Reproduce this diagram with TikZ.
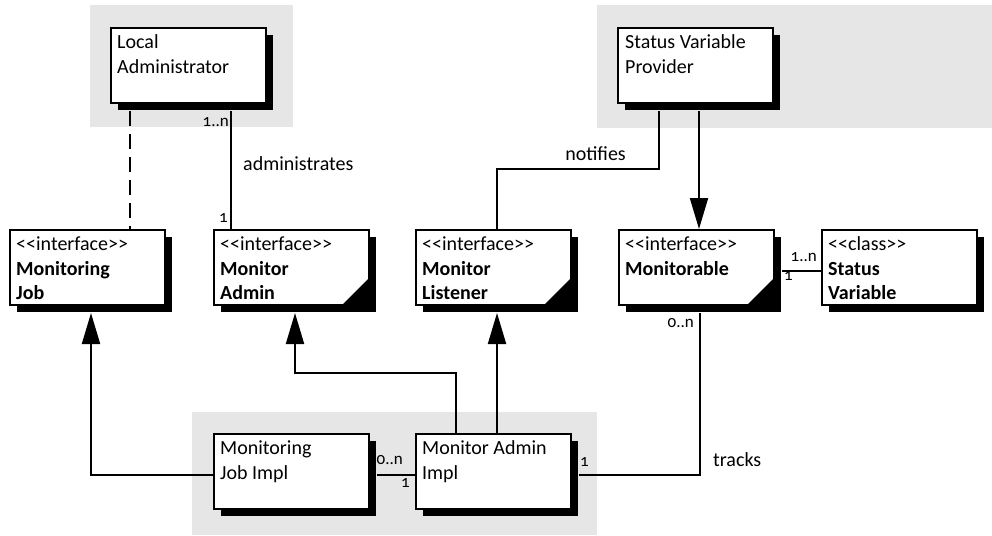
\documentclass[tikz,border=0pt]{standalone}
\usepackage{fontspec}
\setmainfont{Carlito}[Ligatures=TeXOff]
\newfontfamily\numfont{Carlito}[Numbers=OldStyle,Ligatures=TeXOff]
\usetikzlibrary{arrows.meta,shadows,calc}
\definecolor{bggray}{RGB}{230,230,230}
\begin{document}
\begin{tikzpicture}[x=1pt,y=-1pt,
  umlbox/.style={draw, line width=2pt, fill=white, minimum width=155pt, minimum height=75pt,
    inner sep=0pt, anchor=north west,
    general shadow={fill=black, shadow xshift=7pt, shadow yshift=-7pt}},
  boxtext/.style={anchor=north west, inner sep=0pt, align=left, font=\fontsize{20}{24.5}\selectfont},
  lbl/.style={inner sep=0pt, font=\fontsize{20}{24}\selectfont},
  mult/.style={inner sep=0pt, font=\numfont\fontsize{17}{20}\selectfont},
  conn/.style={line width=2pt},
  inh/.style={conn, -{Triangle[width=18pt,length=31pt]}},
  fold/.style={fill=black}
]
\useasboundingbox (0,0) rectangle (992,535);
% grey groups
\fill[bggray] (90,5) rectangle (293,127);
\fill[bggray] (597,5) rectangle (992,128);
\fill[bggray] (192,412) rectangle (597,535);

% boxes
\node[umlbox] (la) at (110,27) {};
\node[umlbox] (svp) at (617,27) {};
\node[umlbox] (mj) at (9,229) {};
\node[umlbox] (ma) at (213,229) {};
\node[umlbox] (ml) at (415,229) {};
\node[umlbox] (mo) at (618,229) {};
\node[umlbox] (sv) at (821,229) {};
\node[umlbox] (mji) at (213,433) {};
\node[umlbox] (mai) at (415,433) {};

\foreach \n in {ma,ml,mo}
  \fill[fold] (\n.south east) -- ($(\n.south east)+(-29,0)$) -- ($(\n.south east)+(0,-29)$) -- cycle;

% box texts
\node[boxtext] (laT) at ($(la.north west)+(7,4.35)$) {\strut Local\\Administrator};
\node[boxtext] (svpT) at ($(svp.north west)+(8,4.35)$) {\strut Status Variable\\Provider};
\node[boxtext] (mjT) at ($(mj.north west)+(7,4.35)$) {\strut <<interface>>\\\textbf{Monitoring}\\\textbf{Job}};
\node[boxtext] (maT) at ($(ma.north west)+(7,4.35)$) {\strut <<interface>>\\\textbf{Monitor}\\\textbf{Admin}};
\node[boxtext] (mlT) at ($(ml.north west)+(7,4.35)$) {\strut <<interface>>\\\textbf{Monitor}\\\textbf{Listener}};
\node[boxtext] (moT) at ($(mo.north west)+(7,4.35)$) {\strut <<interface>>\\\textbf{Monitorable}};
\node[boxtext] (svT) at ($(sv.north west)+(7,4.35)$) {\strut <<class>>\\\textbf{Status}\\\textbf{Variable}};
\node[boxtext] (mjiT) at ($(mji.north west)+(7,4.35)$) {\strut Monitoring\\Job Impl};
\node[boxtext] (maiT) at ($(mai.north west)+(7,4.35)$) {\strut Monitor Admin\\Impl};

% connectors
\coordinate (dtop) at ($(la.south west)+(20,7)$);
\draw[conn, dash pattern=on 15pt off 8pt] (dtop) -- (dtop |- mj.north);

\coordinate (adm) at ($(la.south west)+(121,7)$);
\draw[conn] (adm) -- (adm |- ma.north);

\coordinate (nf) at ($(svp.south west)+(42,7)$);
\coordinate (nfc) at ($(svp.south west)+(42,65)$);
\coordinate (mlt) at ($(ml.north)+(3.5,0)$);
\draw[conn] (nf) -- (nfc) -| (mlt);

\coordinate (svpb) at ($(svp.south)+(3.5,7)$);
\draw[inh] (svpb) -- (svpb |- mo.north);

\coordinate (moe) at ($(mo.east)+(7,3.5)$);
\draw[conn] (moe) -- (moe -| sv.west);

\coordinate (maie) at ($(mai.east)+(7,3.5)$);
\coordinate (mobot) at ($(mo.south)+(3.5,7)$);
\draw[conn] (maie) -| (mobot);

\coordinate (mjie) at ($(mji.east)+(7,3.5)$);
\draw[conn] (mjie) -- (mjie -| mai.west);

\coordinate (mjiw) at ($(mji.west)+(0,3.5)$);
\coordinate (mjb) at ($(mj.south)+(3.5,7)$);
\draw[inh] (mjiw) -| (mjb);

\coordinate (mait) at ($(mai.north west)+(41,0)$);
\coordinate (mab) at ($(ma.south)+(3.5,7)$);
\draw[inh] (mait) -- ++(0,-60) -| (mab);

\coordinate (mlb) at ($(ml.south)+(3.5,7)$);
\draw[inh] (mlb |- mai.north) -- (mlb);

% labels
\node[mult, anchor=base east] (m1) at (229,126) {1..n};
\node[lbl, anchor=base west] (l1) at (243,170) {administrates};
\node[mult, anchor=base east] (m2) at (228,222) {1};
\node[lbl, anchor=base east] (l2) at (626,160) {notifies};
\node[mult, anchor=base east] (m3) at (817,261) {1..n};
\node[mult, anchor=base west] (m4) at (784,280) {1};
\node[mult, anchor=base east] (m5) at (694,327) {0..n};
\node[lbl, anchor=base west] (l3) at (713,466) {tracks};
\node[mult, anchor=base east] (m6) at (403,464) {0..n};
\node[mult, anchor=base east] (m7) at (410,487) {1};
\node[mult, anchor=base west] (m8) at (580,466) {1};
\end{tikzpicture}
\end{document}
